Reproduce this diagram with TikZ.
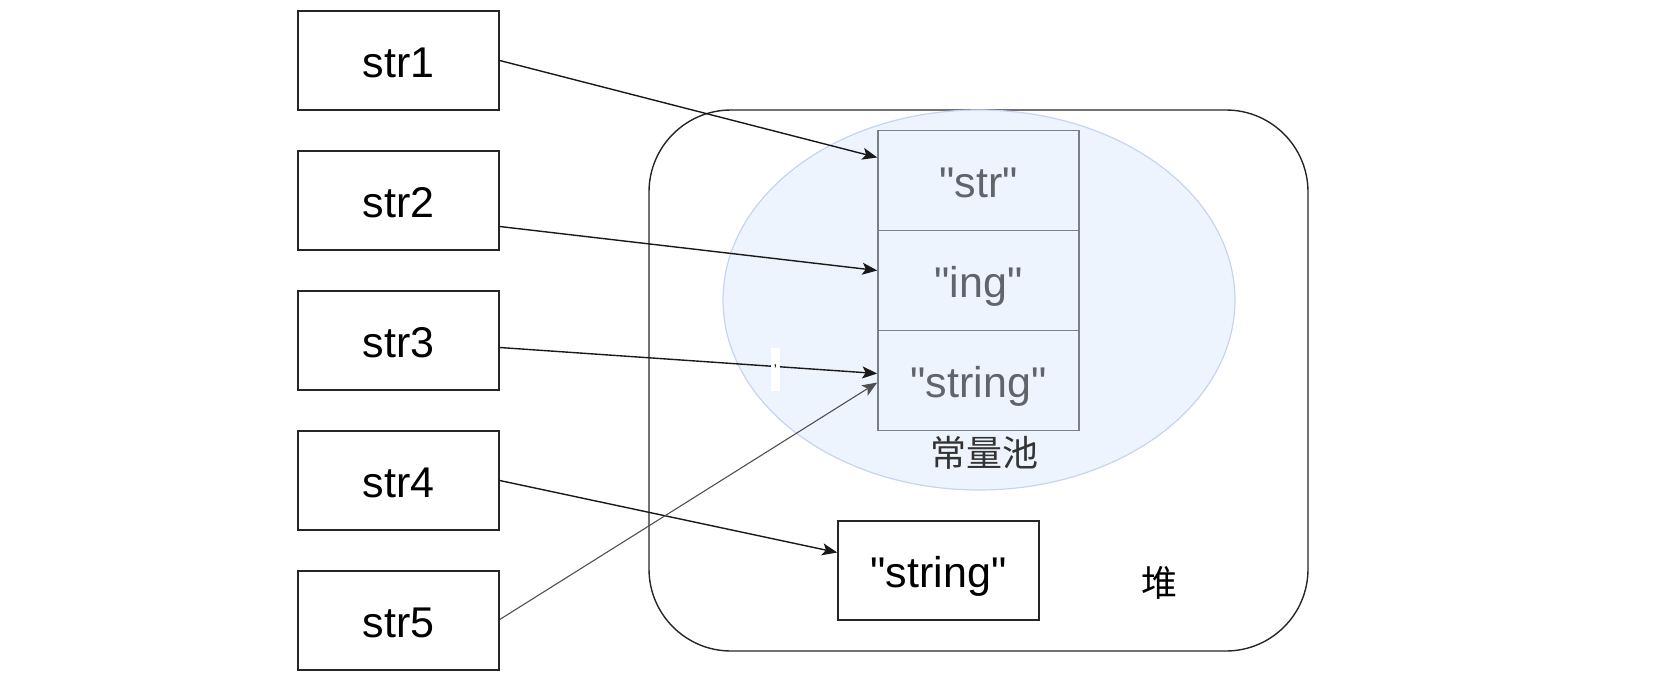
\documentclass[tikz,border=0pt]{standalone}
\usepackage{fontspec}
\setmainfont{Liberation Sans}
\newfontfamily\cjk{Noto Sans CJK SC}
\usetikzlibrary{arrows.meta,positioning}
\definecolor{poolfill}{HTML}{EEF4FD}
\definecolor{poolline}{HTML}{C5D5EE}
\definecolor{cellline}{HTML}{7B8087}
\definecolor{celltext}{HTML}{60656B}
\definecolor{linegray}{HTML}{505050}
\newcommand{\qq}{\textquotedbl}
\begin{document}
\begin{tikzpicture}[x=1pt,y=-1pt,
  varbox/.style={draw=black!85,line width=1.5pt,minimum width=201pt,minimum height=99pt,inner sep=0pt,text height=34pt,text depth=0pt,font=\fontsize{43}{46}\selectfont},
  cellbox/.style={draw=cellline,line width=1.5pt,minimum width=201pt,minimum height=100pt,inner sep=0pt,text height=34pt,text depth=0pt,text=celltext,font=\fontsize{43}{46}\selectfont},
  arr/.style={line width=1.4pt,draw=black!90,-{Stealth[length=15pt,width=12pt,inset=3.5pt]}},
  garr/.style={line width=1.1pt,draw=linegray,-{Stealth[length=15pt,width=12pt,inset=3.5pt]}},
  cjklabel/.style={font=\cjk\fontsize{36}{40}\selectfont}]
\useasboundingbox (0,0) rectangle (1673,686);
% heap
\draw[line width=1.4pt,draw=black!85,rounded corners=82pt] (649,110) rectangle (1308,651);
\node[cjklabel] (heaplbl) at (1159,583) {堆};
% pool ellipse
\fill[poolfill] (979,300) ellipse [x radius=256, y radius=190];
\draw[poolline,line width=1.2pt] (979,300) ellipse [x radius=256, y radius=190];
\node[cjklabel,text=black!80] (poollbl) at (984,453) {常量池};
% pool cells
\node[cellbox] (c1) at (978.5,180.5) {\qq str\qq};
\node[cellbox] (c2) at (978.5,280.5) {\qq ing\qq};
\node[cellbox] (c3) at (978.5,380.5) {\qq string\qq};
% heap string
\node[varbox] (hs) at (938.5,570.5) {\qq string\qq};
% variables
\node[varbox] (s1) at (398.5,60.5) {str1};
\node[varbox] (s2) at (398.5,200.5) {str2};
\node[varbox] (s3) at (398.5,340.5) {str3};
\node[varbox] (s4) at (398.5,480.5) {str4};
\node[varbox] (s5) at (398.5,620.5) {str5};
% arrows
\draw[arr] (s1.east) -- ([yshift=23pt]c1.west);
\draw[arr] ([yshift=-26pt]s2.east) -- ([yshift=10pt]c2.west);
\draw[arr] ([yshift=-7pt]s3.east) -- node[pos=0.73,fill=white,inner sep=0pt,minimum width=9pt,minimum height=43pt,font=\fontsize{14}{14}\selectfont,anchor=center,yshift=-3pt]{'} ([yshift=7pt]c3.west);
\draw[arr] (s4.east) -- ([yshift=18pt]hs.west);
\draw[garr] ([yshift=1pt]s5.east) -- ([yshift=-2pt]c3.west);
\end{tikzpicture}
\end{document}
